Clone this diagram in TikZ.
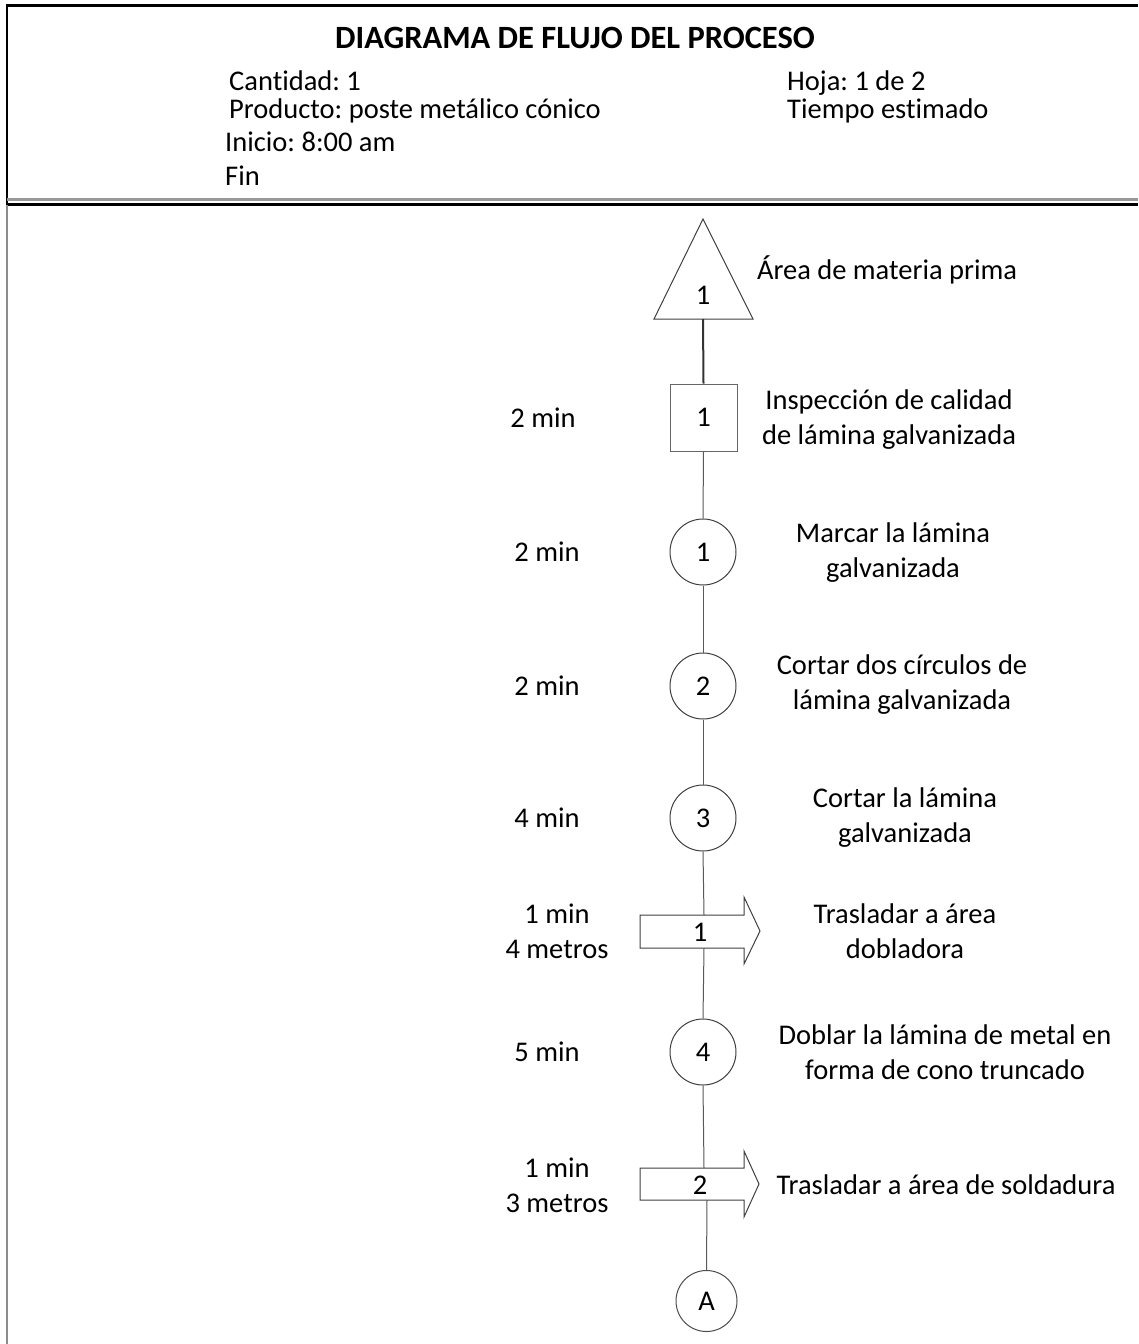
\documentclass[tikz,border=0pt]{standalone}
\usepackage{fontspec}
\setmainfont{Carlito}[Ligatures=NoCommon]
\frenchspacing
\begin{document}
\begin{tikzpicture}[x=1pt,y=-1pt,
  txt/.style={font=\fontsize{28.5}{35}\selectfont, inner sep=0pt, align=center, text=black},
  hdr/.style={font=\fontsize{28.5}{35}\selectfont, inner sep=0pt, anchor=base west, text=black},
  shp/.style={draw=black!75, line width=1pt},
  conn/.style={draw=black!65, line width=1pt},
  opcirc/.style={circle, shp, minimum size=66pt, inner sep=0pt, font=\fontsize{28.5}{35}\selectfont},
]
\useasboundingbox (0,0) rectangle (1138,1344);
\fill[white] (0,0) rectangle (1138,1344);
% frame
\draw[black, line width=3pt] (5.5,5.5) -- (1138,5.5);
\draw[black, line width=2.5pt] (7,5) -- (7,204);
\draw[black!40, line width=3pt] (7,199.5) -- (1138,199.5);
\draw[black, line width=2.5pt] (5.8,204.5) -- (1138,204.5);
\draw[black!45, line width=2.5pt] (7,205) -- (7,1344);
% header
\node[font=\bfseries\fontsize{32.5}{38}\selectfont, inner sep=0pt] (title) at (575,38) {DIAGRAMA DE FLUJO DEL PROCESO};
\node[hdr] (cant) at (229,90) {Cantidad: 1};
\node[hdr] (prod) at (229,118) {Producto: poste metálico cónico};
\node[hdr] (ini) at (225,151) {Inicio: 8:00 am};
\node[hdr] (fin) at (225,185) {Fin};
\node[hdr] (hoja) at (787,90) {Hoja: 1 de 2};
\node[hdr] (tiem) at (787,118) {Tiempo estimado};
% triangle (storage)
\draw[shp] (703,219) -- (753,319) -- (654,319) -- cycle;
\coordinate (tb) at (703,319);
\node[txt] (tri) at (703,295) {1};
\node[txt] (trilab) at (887,270) {Área de materia prima};
% square (inspection)
\node[draw=black!60, line width=1pt, minimum size=67pt, inner sep=0pt, font=\fontsize{28.5}{35}\selectfont] (s1) at (703.5,417.5) {1};
\node[txt] (s1t) at (543,418) {2 min};
\node[txt] (s1l) at (889,420) {Inspección de calidad\\de lámina galvanizada};
\draw[black!80, line width=2pt] (tb) -- (s1.north);
% circles
\node[opcirc] (c1) at (703,552) {1};
\node[txt] (c1t) at (547,552) {2 min};
\node[txt] (c1l) at (893,553) {Marcar la lámina\\galvanizada};
\node[opcirc] (c2) at (703,686) {2};
\node[txt] (c2t) at (547,686) {2 min};
\node[txt] (c2l) at (902,685) {Cortar dos círculos de\\lámina galvanizada};
\node[opcirc] (c3) at (703,818) {3};
\node[txt] (c3t) at (547,818) {4 min};
\node[txt] (c3l) at (905,818) {Cortar la lámina\\galvanizada};
% transport arrow 1
\draw[shp, fill=white] (640,915) -- (744,915) -- (744,897) -- (760,931) -- (744,964) -- (744,948) -- (640,948) -- cycle;
\coordinate (a1n) at (704,915);
\coordinate (a1s) at (704,948);
\node[txt] (a1) at (700,932) {1};
\node[txt] (a1t) at (557,931) {1 min\\4 metros};
\node[txt] (a1l) at (905,931) {Trasladar a área\\dobladora};
\node[opcirc] (c4) at (703,1052) {4};
\node[txt] (c4t) at (547,1052) {5 min};
\node[txt] (c4l) at (945,1052) {Doblar la lámina de metal en\\forma de cono truncado};
% transport arrow 2
\draw[shp, fill=white] (640,1168) -- (744,1168) -- (744,1151) -- (759,1184) -- (744,1217) -- (744,1200) -- (640,1200) -- cycle;
\coordinate (a2n) at (704,1168);
\coordinate (a2s) at (707,1200);
\node[txt] (a2) at (700,1185) {2};
\node[txt] (a2t) at (557,1185) {1 min\\3 metros};
\node[txt] (a2l) at (946,1185) {Trasladar a área de soldadura};
% connector A
\node[circle, draw=black!70, line width=1pt, minimum size=61pt, inner sep=0pt, font=\fontsize{28.5}{35}\selectfont] (A) at (706.5,1301) {A};
% connectors
\draw[conn] (s1.south) -- (c1.north);
\draw[conn] (c1.south) -- (c2.north);
\draw[conn] (c2.south) -- (c3.north);
\draw[conn] (c3.south) -- (a1n);
\draw[conn] (a1s) -- (c4.north);
\draw[conn] (c4.south) -- (a2n);
\draw[conn] (a2s) -- (A.north);
\end{tikzpicture}
\end{document}
